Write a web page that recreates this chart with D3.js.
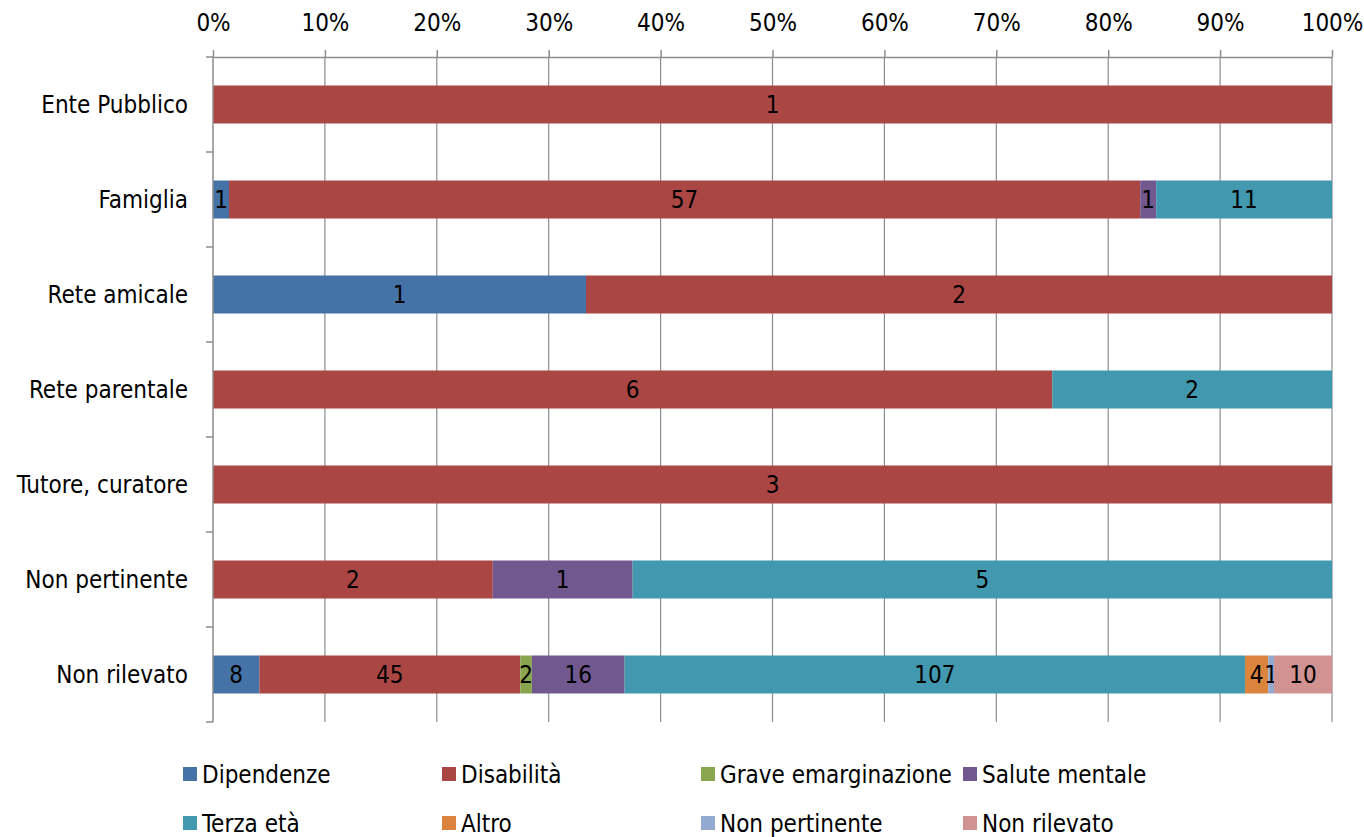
<!DOCTYPE html>
<html><head><meta charset="utf-8">
<script src="https://cdn.jsdelivr.net/npm/d3@7"></script>
<style>
body{margin:0;background:#fff;}
text{font-family:"DejaVu Sans Condensed","Liberation Sans Narrow",sans-serif;font-stretch:condensed;fill:#000;}
</style></head>
<body><svg id="c" width="1364" height="837"></svg>
<script>
const categories = ["Ente Pubblico","Famiglia","Rete amicale","Rete parentale","Tutore, curatore","Non pertinente","Non rilevato"];
const seriesNames = ["Dipendenze","Disabilità","Grave emarginazione","Salute mentale","Terza età","Altro","Non pertinente","Non rilevato"];
const seriesColors = ["#4572A7","#AA4643","#89A54E","#71588F","#4198AF","#DB843D","#93A9CF","#D19392"];
// values per category, in series order
const dipendenze   = [0, 1, 1, 0, 0, 0, 8];
const disabilita   = [1, 57, 2, 6, 3, 2, 45];
const grave        = [0, 0, 0, 0, 0, 0, 2];
const saluteMent   = [0, 1, 0, 0, 0, 1, 16];
const terzaEta     = [0, 11, 0, 2, 0, 5, 107];
const altro        = [0, 0, 0, 0, 0, 0, 4];
const nonPert      = [0, 0, 0, 0, 0, 0, 1];
const nonRilev     = [0, 0, 0, 0, 0, 0, 10];
const tickValues = [0,0.1,0.2,0.3,0.4,0.5,0.6,0.7,0.8,0.9,1];

const series = [dipendenze, disabilita, grave, saluteMent, terzaEta, altro, nonPert, nonRilev];
const rows = categories.map((c,i)=>{
  const o={cat:c};
  seriesNames.forEach((s,j)=>o[s]=series[j][i]);
  return o;
});
const totals = categories.map((c,i)=>series.reduce((a,s)=>a+s[i],0));

const FS = 24;
const svg = d3.select("#c");
const m = {l:213, r:1332, t:57, b:722};
const x = d3.scaleLinear().domain([0,1]).range([m.l,m.r]);
const y = d3.scaleBand().domain(categories).range([m.t,m.b]).paddingInner(0.6).paddingOuter(0.3);
const yb = d3.scaleBand().domain(categories).range([m.t,m.b]);

// gridlines
svg.append("g").selectAll("line").data(tickValues.slice(1)).join("line")
  .attr("x1",d=>x(d)).attr("x2",d=>x(d)).attr("y1",m.t).attr("y2",m.b)
  .attr("stroke","#8c8c8c").attr("stroke-width",1.2);

// stacks
const stack = d3.stack().keys(seriesNames);
const stacked = stack(rows);
const g = svg.append("g");
stacked.forEach((layer,j)=>{
  layer.forEach((d,i)=>{
    const v = d[1]-d[0];
    if(v<=0) return;
    const x0 = x(d[0]/totals[i]), x1 = x(d[1]/totals[i]);
    g.append("rect").attr("x",x0).attr("y",y(categories[i])).attr("width",x1-x0).attr("height",y.bandwidth())
      .attr("fill",seriesColors[j]);
    g.append("text").attr("x",(x0+x1)/2).attr("y",y(categories[i])+y.bandwidth()/2)
      .attr("text-anchor","middle").attr("dy","0.36em").attr("font-size",FS).text(v);
  });
});

// top axis
const ax = svg.append("g").attr("transform",`translate(0,${m.t})`)
  .call(d3.axisTop(x).tickValues(tickValues).tickFormat(d3.format(".0%")).tickSize(7).tickSizeOuter(0).tickPadding(19));
ax.select(".domain").attr("stroke","#8c8c8c").attr("stroke-width",1.5);
ax.selectAll(".tick line").attr("stroke","#8c8c8c").attr("stroke-width",1.5);
ax.selectAll(".tick text").attr("font-size",FS).attr("font-family",null);

// left axis
svg.append("line").attr("x1",m.l).attr("x2",m.l).attr("y1",m.t).attr("y2",m.b).attr("stroke","#8c8c8c").attr("stroke-width",1.5);
const bounds = categories.map(c=>yb(c)).concat([m.b]);
svg.append("g").selectAll("line").data(bounds).join("line")
  .attr("x1",m.l-7).attr("x2",m.l).attr("y1",d=>d).attr("y2",d=>d).attr("stroke","#8c8c8c").attr("stroke-width",1.5);
svg.append("g").selectAll("text").data(categories).join("text")
  .attr("x",m.l-25).attr("y",d=>yb(d)+yb.bandwidth()/2).attr("dy","0.36em")
  .attr("text-anchor","end").attr("font-size",FS).text(d=>d);

// legend
const legX = [183, 442, 701, 963];
const legY = [774, 823];
const leg = svg.append("g");
seriesNames.forEach((s,j)=>{
  const cx = legX[j%4], cy = legY[Math.floor(j/4)];
  leg.append("rect").attr("x",cx).attr("y",cy-7).attr("width",14).attr("height",14).attr("fill",seriesColors[j]);
  leg.append("text").attr("x",cx+19).attr("y",cy).attr("dy","0.36em").attr("font-size",FS).text(s);
});
</script></body></html>
